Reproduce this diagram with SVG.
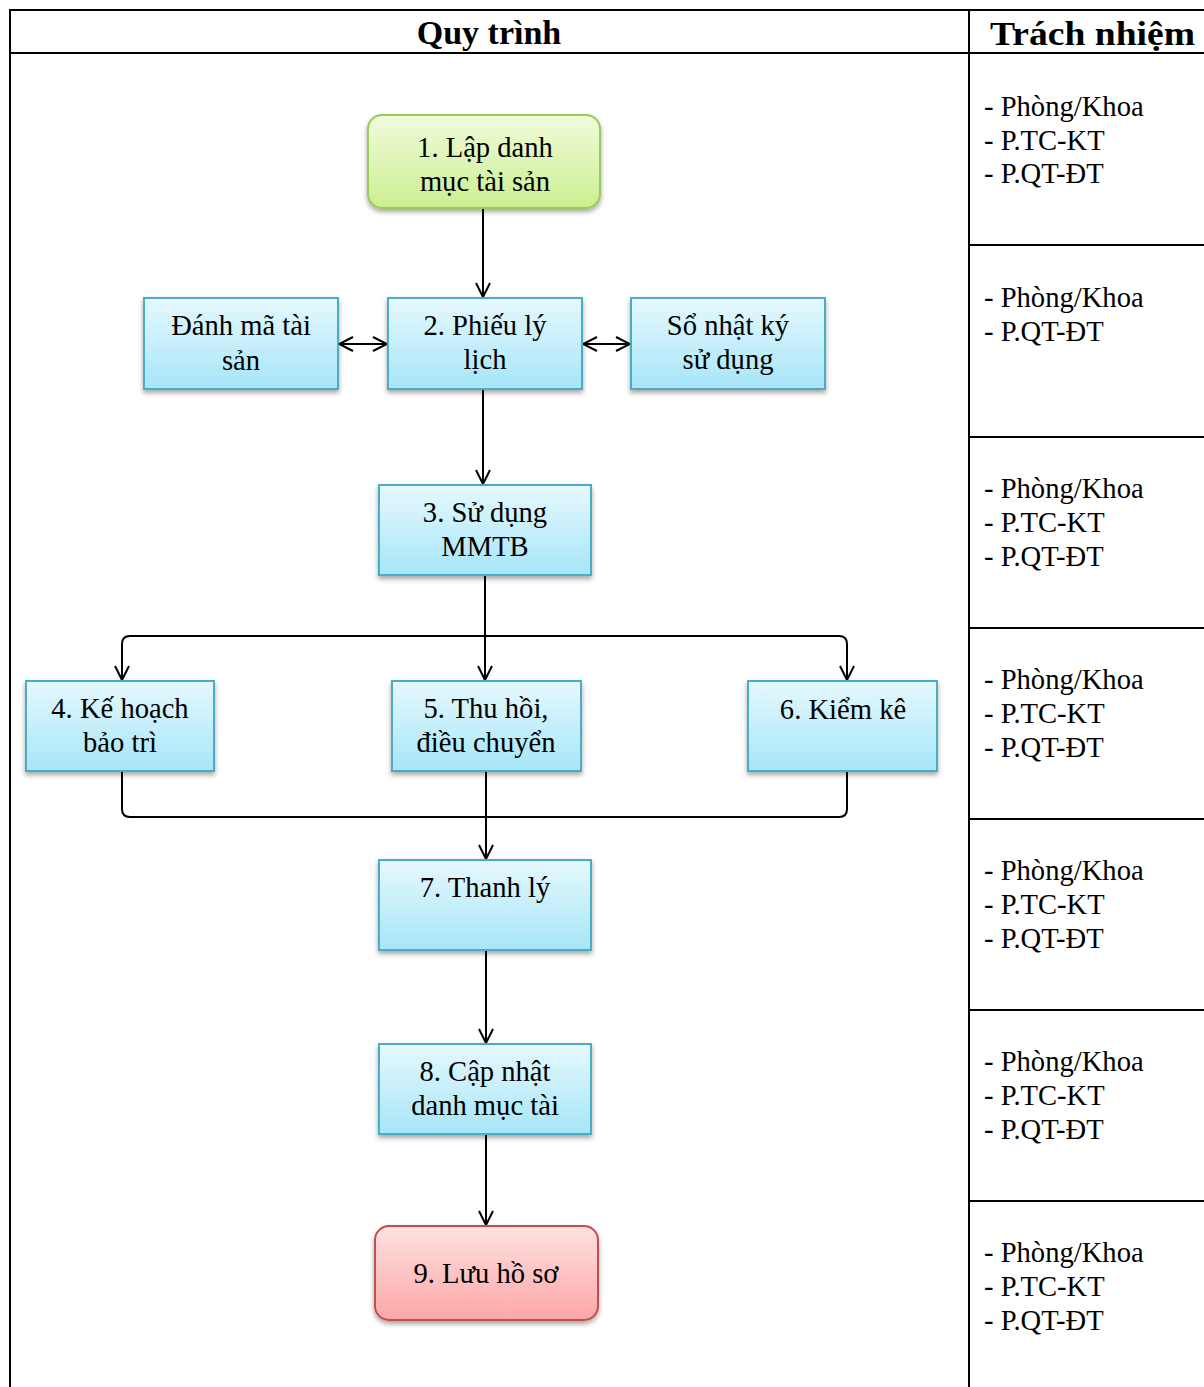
<svg xmlns="http://www.w3.org/2000/svg" width="1204" height="1387" viewBox="0 0 1204 1387">
<style>
.t{font-family:"Liberation Serif","Times New Roman",serif;font-size:28.6px;fill:#000}
.c{text-anchor:middle}
.h{font-family:"Liberation Serif","Times New Roman",serif;font-size:34px;font-weight:bold;fill:#000}
.grid{stroke:#000;stroke-width:2;fill:none}
.box{fill:url(#gb);stroke:#4bacc6;stroke-width:2;filter:url(#sh)}
.conn path{fill:none;stroke:#000;stroke-width:2}
</style>
<defs>
<linearGradient id="gb" x1="0" y1="0" x2="0" y2="1"><stop offset="0" stop-color="#e6f8fd"/><stop offset="1" stop-color="#a6e6f8"/></linearGradient>
<linearGradient id="gg" x1="0" y1="0" x2="0" y2="1"><stop offset="0" stop-color="#f1fbdc"/><stop offset="1" stop-color="#cbef8f"/></linearGradient>
<linearGradient id="gr" x1="0" y1="0" x2="0" y2="1"><stop offset="0" stop-color="#ffe1e1"/><stop offset="1" stop-color="#fca7a7"/></linearGradient>
<filter id="sh" x="-10%" y="-10%" width="120%" height="130%"><feDropShadow dx="0" dy="3" stdDeviation="2.5" flood-color="#000" flood-opacity="0.35"/></filter>
<marker id="ah" viewBox="0 0 16 16" refX="15" refY="8" markerWidth="16" markerHeight="16" markerUnits="userSpaceOnUse" orient="auto-start-reverse"><path d="M1,1 L15,8 L1,15" fill="none" stroke="#000" stroke-width="2"/></marker>
</defs>
<rect width="1204" height="1387" fill="#fff"/>
<g id="table">
<path class="grid" d="M10,1387 V10 H1204 M10,53 H1204 M969,10 V1387 M969,245 H1204 M969,437 H1204 M969,628 H1204 M969,819 H1204 M969,1010 H1204 M969,1201 H1204"/>
<text class="h c" x="489" y="44">Quy trình</text>
<text class="h" x="990" y="45" textLength="205" lengthAdjust="spacingAndGlyphs">Trách nhiệm</text>
</g>
<g id="resp" class="t">
<text x="984" y="116">- Phòng/Khoa</text><text x="984" y="150">- P.TC-KT</text><text x="984" y="183">- P.QT-ĐT</text>
<text x="984" y="307">- Phòng/Khoa</text><text x="984" y="341">- P.QT-ĐT</text>
<text x="984" y="498">- Phòng/Khoa</text><text x="984" y="532">- P.TC-KT</text><text x="984" y="566">- P.QT-ĐT</text>
<text x="984" y="689">- Phòng/Khoa</text><text x="984" y="723">- P.TC-KT</text><text x="984" y="757">- P.QT-ĐT</text>
<text x="984" y="880">- Phòng/Khoa</text><text x="984" y="914">- P.TC-KT</text><text x="984" y="948">- P.QT-ĐT</text>
<text x="984" y="1071">- Phòng/Khoa</text><text x="984" y="1105">- P.TC-KT</text><text x="984" y="1139">- P.QT-ĐT</text>
<text x="984" y="1262">- Phòng/Khoa</text><text x="984" y="1296">- P.TC-KT</text><text x="984" y="1330">- P.QT-ĐT</text>
</g>
<g class="conn" id="connectors">
<path d="M483,208 V297" marker-end="url(#ah)"/>
<path d="M339,344 H387" marker-start="url(#ah)" marker-end="url(#ah)"/>
<path d="M583,344 H630" marker-start="url(#ah)" marker-end="url(#ah)"/>
<path d="M483,389 V484" marker-end="url(#ah)"/>
<path d="M485,575 V680" marker-end="url(#ah)"/>
<path d="M122,680 V644 Q122,636 130,636 H839 Q847,636 847,644 V680" marker-end="url(#ah)"/>
<path d="M122,680 V644" marker-start="url(#ah)"/>
<path d="M122,771 V809 Q122,817 130,817 H839 Q847,817 847,809 V771"/>
<path d="M486,771 V859" marker-end="url(#ah)"/>
<path d="M486,950 V1043" marker-end="url(#ah)"/>
<path d="M486,1134 V1225" marker-end="url(#ah)"/>
</g>
<g id="n1"><rect x="368" y="115" width="232" height="93" rx="14" fill="url(#gg)" stroke="#9bc95a" stroke-width="2" filter="url(#sh)"/>
<text class="t c" x="485" y="157">1. Lập danh</text><text class="t c" x="485" y="191">mục tài sản</text></g>
<g id="nma"><rect class="box" x="144" y="298" width="194" height="91"/>
<text class="t c" x="241" y="335">Đánh mã tài</text><text class="t c" x="241" y="370">sản</text></g>
<g id="n2"><rect class="box" x="388" y="298" width="194" height="91"/>
<text class="t c" x="485" y="335">2. Phiếu lý</text><text class="t c" x="485" y="369">lịch</text></g>
<g id="nso"><rect class="box" x="631" y="298" width="194" height="91"/>
<text class="t c" x="728" y="335">Sổ nhật ký</text><text class="t c" x="728" y="369">sử dụng</text></g>
<g id="n3"><rect class="box" x="379" y="485" width="212" height="90"/>
<text class="t c" x="485" y="522">3. Sử dụng</text><text class="t c" x="485" y="556">MMTB</text></g>
<g id="n4"><rect class="box" x="26" y="681" width="188" height="90"/>
<text class="t c" x="120" y="718">4. Kế hoạch</text><text class="t c" x="120" y="752">bảo trì</text></g>
<g id="n5"><rect class="box" x="392" y="681" width="189" height="90"/>
<text class="t c" x="486" y="718">5. Thu hồi,</text><text class="t c" x="486" y="752">điều chuyển</text></g>
<g id="n6"><rect class="box" x="748" y="681" width="189" height="90"/>
<text class="t c" x="843" y="719">6. Kiểm kê</text></g>
<g id="n7"><rect class="box" x="379" y="860" width="212" height="90"/>
<text class="t c" x="485" y="897">7. Thanh lý</text></g>
<g id="n8"><rect class="box" x="379" y="1044" width="212" height="90"/>
<text class="t c" x="485" y="1081">8. Cập nhật</text><text class="t c" x="485" y="1115">danh mục tài</text></g>
<g id="n9"><rect x="375" y="1226" width="223" height="94" rx="14" fill="url(#gr)" stroke="#c0504d" stroke-width="2" filter="url(#sh)"/>
<text class="t c" x="486" y="1283">9. Lưu hồ sơ</text></g>
</svg>
